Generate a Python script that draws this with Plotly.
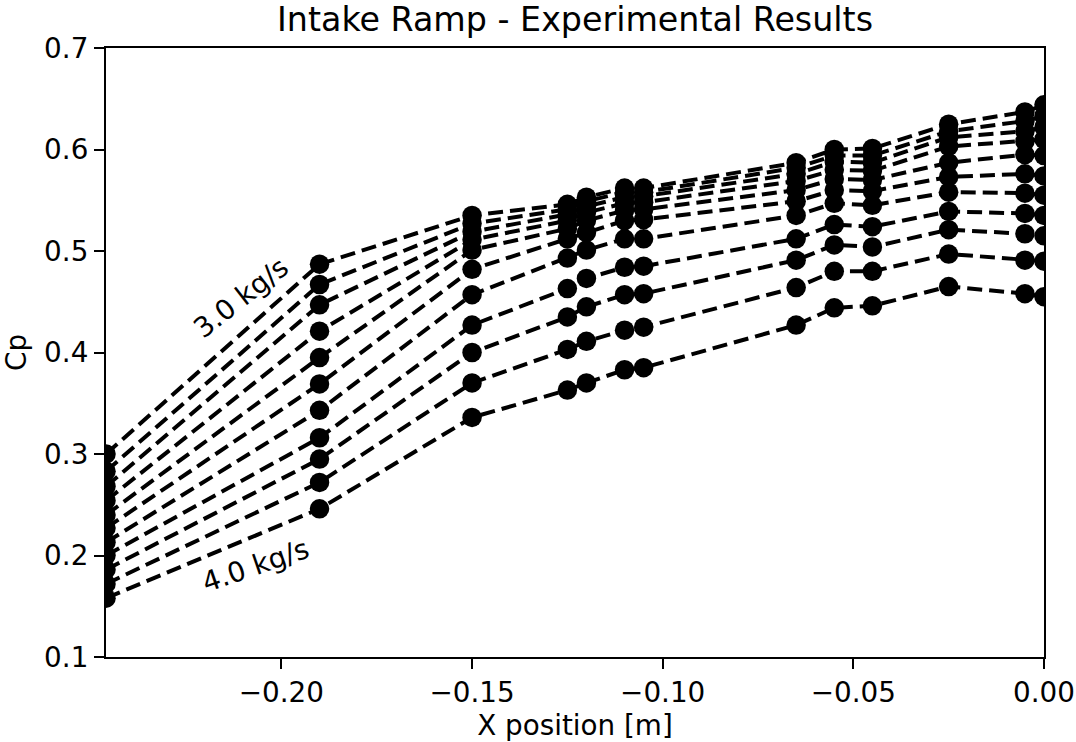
import plotly.graph_objects as go

# X positions of pressure taps [m]
x_pos = [-0.246, -0.19, -0.15, -0.125, -0.12, -0.11, -0.105, -0.065, -0.055, -0.045, -0.025, -0.005, 0.0]

# Mass flow rates [kg/s]
mass_flows = [3.0, 3.1, 3.2, 3.3, 3.4, 3.5, 3.6, 3.7, 3.8, 3.9, 4.0]

# Cp values per mass flow, one list per series
cp_30 = [0.300, 0.487, 0.535, 0.546, 0.553, 0.562, 0.562, 0.587, 0.600, 0.601, 0.625, 0.637, 0.644]
cp_31 = [0.283, 0.467, 0.527, 0.541, 0.549, 0.558, 0.558, 0.582, 0.594, 0.594, 0.618, 0.628, 0.633]
cp_32 = [0.268, 0.447, 0.519, 0.536, 0.544, 0.553, 0.554, 0.576, 0.588, 0.587, 0.612, 0.618, 0.622]
cp_33 = [0.254, 0.421, 0.511, 0.530, 0.538, 0.547, 0.548, 0.569, 0.580, 0.579, 0.603, 0.608, 0.610]
cp_34 = [0.240, 0.395, 0.501, 0.522, 0.530, 0.540, 0.541, 0.560, 0.571, 0.570, 0.587, 0.595, 0.594]
cp_35 = [0.227, 0.369, 0.482, 0.512, 0.518, 0.530, 0.531, 0.549, 0.560, 0.559, 0.573, 0.576, 0.574]
cp_36 = [0.213, 0.343, 0.457, 0.493, 0.501, 0.512, 0.512, 0.535, 0.547, 0.545, 0.558, 0.557, 0.555]
cp_37 = [0.200, 0.316, 0.427, 0.463, 0.473, 0.484, 0.485, 0.512, 0.526, 0.524, 0.539, 0.537, 0.535]
cp_38 = [0.186, 0.295, 0.400, 0.435, 0.445, 0.457, 0.458, 0.491, 0.506, 0.504, 0.521, 0.517, 0.515]
cp_39 = [0.172, 0.272, 0.370, 0.403, 0.411, 0.422, 0.425, 0.464, 0.480, 0.480, 0.497, 0.491, 0.490]
cp_40 = [0.158, 0.246, 0.336, 0.363, 0.370, 0.383, 0.385, 0.427, 0.444, 0.446, 0.465, 0.458, 0.455]

series = [cp_30, cp_31, cp_32, cp_33, cp_34, cp_35, cp_36, cp_37, cp_38, cp_39, cp_40]

x_tickvals = [-0.20, -0.15, -0.10, -0.05, 0.00]
x_ticktext = ["\u22120.20", "\u22120.15", "\u22120.10", "\u22120.05", "0.00"]
y_tickvals = [0.1, 0.2, 0.3, 0.4, 0.5, 0.6, 0.7]
y_ticktext = ["0.1", "0.2", "0.3", "0.4", "0.5", "0.6", "0.7"]

FONT = "DejaVu Sans"

fig = go.Figure()
for mf, cp in zip(mass_flows, series):
    fig.add_trace(go.Scatter(
        x=x_pos, y=cp, mode="lines+markers",
        name=f"{mf:.1f} kg/s",
        line=dict(color="black", width=4.0, dash="15px,7px"),
        marker=dict(color="black", size=19.5, line=dict(width=0)),
        showlegend=False,
    ))

fig.add_annotation(x=-0.2105, y=0.4537, text="3.0 kg/s", showarrow=False,
                   textangle=-38, font=dict(family=FONT, size=27.8, color="black"))
fig.add_annotation(x=-0.2068, y=0.1906, text="4.0 kg/s", showarrow=False,
                   textangle=-19, font=dict(family=FONT, size=27.8, color="black"))

axis_common = dict(
    showline=True, linecolor="black", linewidth=2.2, mirror=True,
    ticks="outside", ticklen=10, tickwidth=2.2, tickcolor="black",
    showgrid=False, zeroline=False, automargin=False,
    tickfont=dict(family=FONT, size=27.8, color="black"),
)

fig.update_layout(
    width=1076, height=742,
    margin=dict(l=106, r=32, t=48, b=85),
    paper_bgcolor="white", plot_bgcolor="white",
    font=dict(family=FONT, color="black"),
    title=dict(text="Intake Ramp - Experimental Results", x=(106 + 1044) / 2 / 1076,
               xanchor="center", y=1 - 19 / 742, yanchor="middle",
               font=dict(family=FONT, size=33.3, color="black")),
    xaxis=dict(range=[-0.246, 0.0], tickvals=x_tickvals, ticktext=x_ticktext,
               title=dict(text="X position [m]", font=dict(family=FONT, size=27.8), standoff=3),
               **axis_common),
    yaxis=dict(range=[0.1, 0.7], tickvals=y_tickvals, ticktext=y_ticktext,
               title=dict(text="Cp", font=dict(family=FONT, size=27.8), standoff=10),
               **axis_common),
)

fig.write_html("out.html")
